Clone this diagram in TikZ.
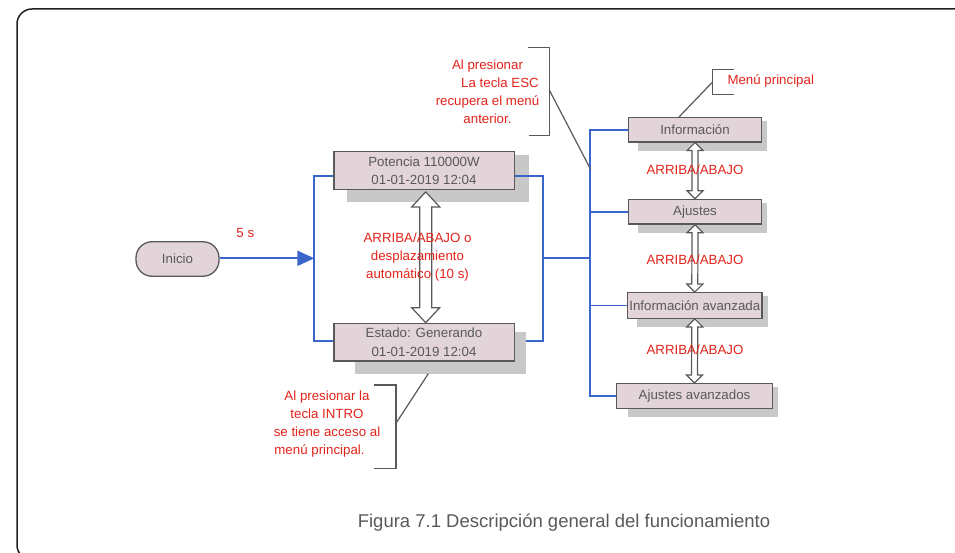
\documentclass[tikz,border=0pt]{standalone}
\usepackage{fontspec}
\setmainfont{Liberation Sans}
\usetikzlibrary{calc,arrows.meta}
\definecolor{redt}{HTML}{E2231A}
\definecolor{bluel}{HTML}{3A66CC}
\definecolor{grayt}{HTML}{595959}
\definecolor{boxf}{HTML}{E2D4D9}
\definecolor{shad}{HTML}{C8C8C8}
\definecolor{framec}{HTML}{231F20}
\pgfdeclarelayer{bg}
\pgfsetlayers{bg,main}
% #1 top tip, #2 bottom tip, #3 shaft half width, #4 head half width, #5 head length
\newcommand\myDblArrow[5]{%
  \draw[dblarr] (#1) -- ++(#4,#5) -- ++({#3-#4},0) -- ($(#2)+(#3,-#5)$) -- ++({#4-#3},0)
   -- (#2) -- ++(-#4,-#5) -- ++({#4-#3},0) -- ($(#1)+(-#3,#5)$) -- ++({#3-#4},0) -- cycle;}
% #1 node, #2 left, #3 top, #4 right, #5 bottom offsets
\newcommand\myShadow[5]{%
  \begin{pgfonlayer}{bg}
  \fill[shad] ($(#1.north west)+(#2,#3)$) rectangle ($(#1.south east)+(#4,#5)$);
  \end{pgfonlayer}}
\begin{document}
\begin{tikzpicture}[x=1pt,y=-1pt,
  box/.style={draw=grayt, line width=1.3pt, fill=boxf, text=grayt,
    font=\fontsize{13.3}{18.4}\selectfont, inner sep=0pt, align=center},
  redlbl/.style={text=redt, font=\fontsize{13.3}{18.1}\selectfont, inner sep=0pt, align=center},
  conn/.style={draw=bluel, line width=1.7pt},
  callout/.style={draw=grayt, line width=1.2pt},
  dblarr/.style={draw=grayt, line width=1.2pt, fill=white, line join=miter}]
\useasboundingbox (0,0) rectangle (955,553);
\begin{pgfonlayer}{bg}
\begin{scope}
\clip (0,0) rectangle (955,553);
\draw[framec, line width=1.5pt, rounded corners=15pt] (990,560) -- (17,560) -- (17,9) -- (990,9);
\end{scope}
\end{pgfonlayer}

% start node
\node[box, rounded corners=16pt, minimum width=83, minimum height=34.5] (inicio) at (177.5,259) {Inicio};

% main display boxes
\node[box, minimum width=180.3, minimum height=37.6] (b1) at (424,170.5) {Potencia 110000W\\01-01-2019 12:04};
\node[box, minimum width=180.3, minimum height=37.7] (b2) at (424,342.2) {Estado: Generando\\01-01-2019 12:04};
\myShadow{b1}{14}{4}{14}{12}
\myShadow{b2}{22}{9}{11}{12}

% menu boxes
\node[box, minimum width=133.4, minimum height=24.3] (i1) at (695,129.8) {Información};
\node[box, minimum width=133.4, minimum height=24.7] (i2) at (695,211.7) {Ajustes};
\node[box, minimum width=134.3, minimum height=25.6] (i3) at (694.8,305.5) {Información avanzada};
\node[box, minimum width=155.6, minimum height=24.6] (i4) at (694.5,396) {Ajustes avanzados};
\myShadow{i1}{10}{4}{5}{8}
\myShadow{i2}{10}{4}{5}{8}
\myShadow{i3}{10}{4}{5}{8}
\myShadow{i4}{12}{4}{5}{8}

% blue connectors
\coordinate (lbm) at (314.3,258.3);
\coordinate (rbm) at (543.3,258.3);
\draw[conn, line width=2.3pt, -{Triangle[length=17pt,width=15pt]}] (inicio.east |- lbm) -- (lbm);
\draw[conn] ([yshift=-5.3pt]b1.west) -| (lbm) |- ([yshift=1.5pt]b2.west);
\draw[conn] ([yshift=-5.3pt]b1.east) -| (rbm) |- ([xshift=11pt,yshift=1.5pt]b2.east);
\draw[conn] (i1.west) -- ++(-37.6,0) coordinate (bustop) -- (bustop |- i4.west) -- (i4.west);
\draw[conn] (i2.west) -- (i2.west -| bustop);
\draw[conn] (i3.west) -- (i3.west -| bustop);
\draw[conn] (rbm) -- (rbm -| bustop);

% double arrows
\myDblArrow{$(b1.south)+(1.7,2)$}{$(b2.north)+(1.7,0)$}{6}{14}{15}
\myDblArrow{i1.south}{i2.north}{3}{8}{8}
\myDblArrow{i2.south}{i3.north}{3}{8}{8}
\myDblArrow{i3.south}{i4.north}{3}{8}{8}

% labels
\node[redlbl] (l5s) at (245.3,233.3) {5 s};
\node[redlbl] (lscroll) at (417.5,257) {ARRIBA/ABAJO o\\desplazamiento\\automático (10 s)};
\node[redlbl] (lab1) at (695,170) {ARRIBA/ABAJO};
\node[redlbl] (lab2) at (695,259.3) {ARRIBA/ABAJO};
\node[redlbl] (lab3) at (695,350) {ARRIBA/ABAJO};

% ESC callout
\draw[callout] (528.3,47.3) -- (549.3,47.3) coordinate (esctop) -- (549.3,135.7) -- (529,135.7);
\coordinate (escl) at (549.3,90);
\coordinate (escbus) at (590.7,169.5);
\draw[callout] (escl) -- (escbus);
\node[redlbl] (tesc) at (487.5,92) {Al presionar\\\hspace*{25pt}La tecla ESC\\recupera el menú\\anterior.};

% menu principal callout
\draw[callout] (734,69.3) -- (712.3,69.3) -- (712.3,94.7) -- (734,94.7);
\coordinate (menul) at (712.3,82.3);
\draw[callout] (menul) -- ([xshift=-16pt]i1.north);
\node[redlbl, anchor=west] (tmenu) at (727.3,80.7) {Menú principal};

% INTRO callout
\draw[callout] (374.3,385) -- (396,385) -- (396,468.3) -- (374.3,468.3);
\coordinate (introl) at (396,423.3);
\draw[callout] (introl) -- ([xshift=4.3pt,yshift=-12pt]b2.south);
\node[redlbl] (tintro) at (327,424.2) {Al presionar la\\tecla INTRO\\se tiene acceso al\\menú principal.\hspace*{15pt}};

% caption
\node[text=grayt, font=\fontsize{18.5}{22}\selectfont, inner sep=0pt] (cap) at (564,522.7) {Figura 7.1 Descripción general del funcionamiento};
\end{tikzpicture}
\end{document}
